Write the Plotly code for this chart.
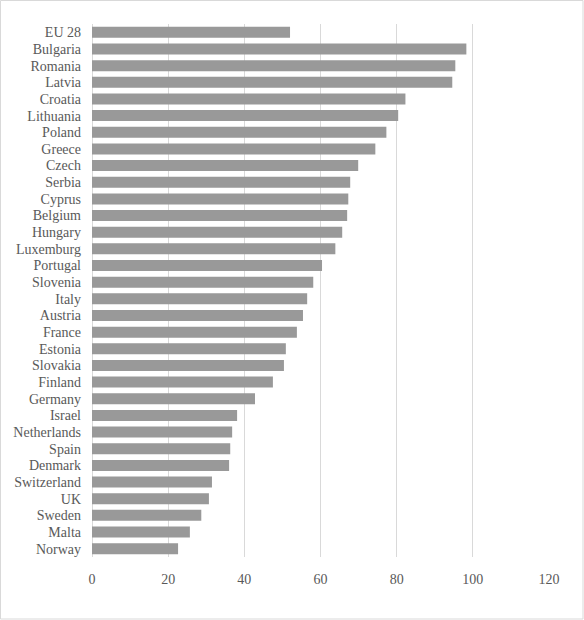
import plotly.graph_objects as go

# Values
countries = [
    "EU 28", "Bulgaria", "Romania", "Latvia", "Croatia", "Lithuania", "Poland",
    "Greece", "Czech", "Serbia", "Cyprus", "Belgium", "Hungary", "Luxemburg",
    "Portugal", "Slovenia", "Italy", "Austria", "France", "Estonia", "Slovakia",
    "Finland", "Germany", "Israel", "Netherlands", "Spain", "Denmark",
    "Switzerland", "UK", "Sweden", "Malta", "Norway",
]
values = [
    52.0, 98.3, 95.4, 94.6, 82.3, 80.4, 77.3,
    74.4, 69.9, 67.8, 67.3, 67.0, 65.7, 63.9,
    60.4, 58.1, 56.5, 55.4, 53.8, 50.9, 50.4,
    47.5, 42.8, 38.1, 36.8, 36.3, 36.0,
    31.5, 30.7, 28.7, 25.7, 22.6,
]
x_ticks = [0, 20, 40, 60, 80, 100, 120]

W, H = 584, 620
ML, MR, MT, MB = 92, 35, 24, 63
FONT = "Liberation Serif, Times New Roman, serif"
TEXT_COLOR = "#595959"

fig = go.Figure(
    go.Bar(
        x=values,
        y=countries,
        orientation="h",
        marker=dict(color="#999999", line=dict(width=0)),
        hoverinfo="x+y",
    )
)

# outer chart border (light grey frame like the original export)
pw = W - ML - MR
ph = H - MT - MB
x0 = (0.5 - ML) / pw
x1 = (583 - ML) / pw
y1 = (H - MB - 0.5) / ph
y0 = (H - MB - 619) / ph
fig.add_shape(
    type="rect", xref="paper", yref="paper",
    x0=x0, x1=x1, y0=y0, y1=y1,
    line=dict(color="#d9d9d9", width=1), layer="below",
)

fig.update_layout(
    width=W,
    height=H,
    margin=dict(l=ML, r=MR, t=MT, b=MB),
    paper_bgcolor="white",
    plot_bgcolor="white",
    bargap=0.34,
    showlegend=False,
    font=dict(family=FONT, size=14, color=TEXT_COLOR),
    xaxis=dict(
        range=[0, 120],
        tickvals=x_ticks,
        showgrid=True,
        gridcolor="#d9d9d9",
        gridwidth=1,
        zeroline=True,
        zerolinecolor="#d9d9d9",
        zerolinewidth=1,
        showline=False,
        ticks="",
        ticklabelstandoff=12,
        tickfont=dict(family=FONT, size=14, color=TEXT_COLOR),
        fixedrange=True,
    ),
    yaxis=dict(
        autorange="reversed",
        type="category",
        tickmode="array",
        tickvals=countries,
        ticktext=countries,
        showgrid=False,
        showline=False,
        ticks="",
        ticklabelstandoff=10,
        tickfont=dict(family=FONT, size=14, color=TEXT_COLOR),
        fixedrange=True,
    ),
)

# drop the default body margin so the chart sits flush in the window
fig.write_html(
    "out.html",
    config={"displayModeBar": False},
    post_script="document.body.style.margin='0';document.body.style.overflow='hidden';",
)
